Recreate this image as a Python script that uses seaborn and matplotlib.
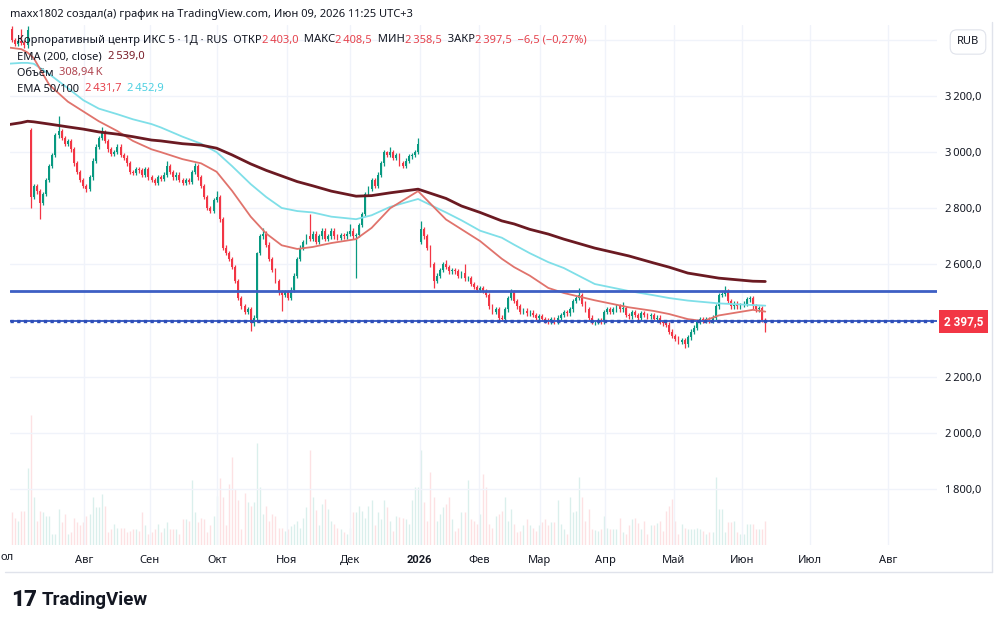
import numpy as np
import pandas as pd
import matplotlib
matplotlib.use("Agg")
import matplotlib.pyplot as plt
import matplotlib.transforms as mtransforms
from matplotlib.lines import Line2D
import seaborn as sns


# daily candles, X5 (ИКС 5); bar 0 ~ 1 July 2025
close = [
  3400, 3385, 3395, 3390, 3380, 3435, 2840, 2880, 2860, 2820,
  2850, 2900, 2950, 2990, 3060, 3075, 3050, 3030, 3040, 3010,
  2960, 2930, 2900, 2880, 2870, 2910, 2970, 3020, 3050, 3070,
  3040, 3010, 2995, 3000, 3020, 2990, 2980, 2960, 2930, 2925,
  2940, 2935, 2920, 2940, 2910, 2900, 2890, 2910, 2905, 2920,
  2950, 2930, 2910, 2920, 2900, 2890, 2900, 2895, 2930, 2950,
  2910, 2880, 2840, 2800, 2790, 2830, 2840, 2760, 2660, 2640,
  2620, 2590, 2540, 2480, 2450, 2430, 2440, 2390, 2410, 2640,
  2700, 2710, 2670, 2620, 2580, 2540, 2500, 2490, 2500, 2480,
  2510, 2560, 2620, 2660, 2680, 2700, 2690, 2710, 2680, 2700,
  2720, 2690, 2700, 2720, 2700, 2695, 2705, 2700, 2710, 2720,
  2700, 2705, 2740, 2780, 2850, 2870, 2900, 2880, 2920, 2960,
  3000, 2990, 3000, 2980, 2990, 2960, 2950, 2970, 2985, 2990,
  3000, 3030, 2725, 2700, 2660, 2600, 2540, 2560, 2580, 2600,
  2590, 2575, 2580, 2575, 2560, 2570, 2550, 2550, 2530, 2520,
  2510, 2515, 2505, 2490, 2450, 2430, 2440, 2410, 2405, 2440,
  2480, 2500, 2470, 2450, 2430, 2435, 2425, 2428, 2420, 2410,
  2415, 2405, 2400, 2395, 2405, 2395, 2410, 2420, 2430, 2425,
  2440, 2470, 2480, 2490, 2460, 2440, 2410, 2395, 2395, 2400,
  2395, 2430, 2440, 2430, 2440, 2450, 2440, 2445, 2420, 2415,
  2430, 2420, 2410, 2425, 2420, 2415, 2420, 2405, 2410, 2395,
  2390, 2385, 2360, 2345, 2335, 2325, 2330, 2315, 2340, 2360,
  2375, 2395, 2405, 2400, 2405, 2400, 2410, 2450, 2490, 2495,
  2505, 2470, 2450, 2460, 2450, 2455, 2460, 2475, 2480, 2450,
  2440, 2445, 2403, 2397.5,
]
# gap opens (otherwise open = previous close)
open_gaps = {0: 3440, 6: 3080, 132: 2680}
# visible long wicks
wick_high = {3: 3440, 5: 3448, 6: 3085, 15: 3128, 29: 3090, 50: 2968, 59: 2962,
             66: 2860, 79: 2645, 81: 2730, 96: 2780, 109: 2745, 121: 3005,
             122: 3020, 131: 3050, 132: 2755, 140: 2615, 146: 2600, 161: 2512,
             183: 2516, 197: 2465, 230: 2523, 243: 2408.5}
wick_low = {6: 2800, 9: 2760, 24: 2858, 77: 2363, 87: 2434, 111: 2551,
            136: 2516, 157: 2395, 188: 2385, 217: 2302, 243: 2358.5}

# volume, thousands of shares
volume = [
  420, 350, 310, 440, 440, 980, 1660, 610, 310, 440,
  420, 370, 370, 140, 140, 460, 290, 400, 140, 160,
  350, 300, 250, 290, 370, 400, 610, 480, 480, 650,
  500, 160, 200, 270, 220, 220, 220, 160, 180, 200,
  200, 180, 420, 250, 140, 160, 200, 270, 160, 220,
  290, 200, 200, 200, 140, 330, 330, 310, 830, 420,
  290, 350, 330, 160, 250, 370, 630, 850, 610, 250,
  780, 1130, 720, 570, 200, 670, 550, 500, 550, 1300,
  740, 400, 500, 310, 400, 370, 220, 220, 180, 200,
  240, 270, 310, 220, 350, 480, 1210, 610, 450, 250,
  520, 590, 460, 310, 270, 220, 200, 170, 140, 220,
  420, 420, 500, 430, 350, 500, 570, 250, 420, 330,
  570, 480, 310, 180, 370, 360, 350, 330, 270, 570,
  740, 740, 1210, 550, 310, 930, 610, 310, 400, 480,
  520, 610, 330, 180, 220, 420, 420, 830, 330, 310,
  270, 400, 910, 740, 270, 220, 370, 400, 440, 610,
  310, 460, 270, 160, 180, 260, 330, 250, 220, 180,
  250, 290, 330, 250, 290, 290, 570, 270, 200, 140,
  610, 420, 440, 870, 610, 310, 460, 200, 190, 180,
  200, 370, 220, 200, 200, 200, 350, 160, 140, 250,
  330, 350, 280, 200, 310, 140, 250, 250, 280, 310,
  180, 440, 500, 590, 310, 140, 270, 220, 200, 200,
  210, 220, 200, 180, 140, 160, 160, 870, 460, 460,
  160, 290, 290, 310, 160, 140, 140, 270, 270, 270,
  200, 200, 200, 308.94,
]

# EMA lines (bar index -> value)
ema_bar = [-4, 3, 5, 7, 12, 18, 23, 28, 34, 39, 45, 48, 55, 61, 66, 71, 77, 82,
           87, 92, 97, 103, 111, 116, 122, 131, 140, 145, 151, 158, 162, 167,
           173, 178, 188, 199, 207, 212, 218, 223, 228, 239, 243]
ema50 = [3377, 3367, 3355, 3335, 3240, 3180, 3145, 3110, 3075, 3040, 3010, 3000,
         2975, 2960, 2930, 2862, 2770, 2710, 2668, 2655, 2662, 2676, 2690, 2730,
         2800, 2861, 2760, 2725, 2683, 2620, 2590, 2560, 2516, 2498, 2472, 2447,
         2434, 2423, 2405, 2398, 2418, 2438, 2431.7]
ema100 = [3313, 3318, 3318, 3315, 3278, 3228, 3185, 3155, 3135, 3117, 3100, 3088,
          3055, 3030, 3000, 2950, 2886, 2840, 2801, 2790, 2785, 2770, 2761, 2775,
          2805, 2833, 2785, 2757, 2720, 2695, 2670, 2640, 2608, 2587, 2530, 2505,
          2490, 2480, 2471, 2466, 2461, 2455, 2452.9]
ema200 = [3093, 3105, 3110, 3108, 3100, 3090, 3082, 3072, 3064, 3055, 3043, 3040,
          3030, 3025, 3014, 2990, 2958, 2935, 2915, 2895, 2880, 2861, 2843, 2845,
          2855, 2868, 2835, 2808, 2785, 2755, 2744, 2725, 2708, 2690, 2658, 2630,
          2605, 2590, 2569, 2560, 2551, 2540, 2539.0]

level_top = 2505
level_bottom = 2397.5
last_price = 2397.5

month_labels = ["Авг", "Сен", "Окт", "Ноя", "Дек", "2026", "Фев", "Мар", "Апр",
                "Май", "Июн", "Июл", "Авг"]
month_first_bar = [23.2, 44.5, 66.1, 88.7, 109.0, 131.5, 150.6, 170.3, 191.3,
                   213.5, 235.5, 257.4, 282.6]

UP, DOWN = "#089981", "#f23645"
TXT = "#131722"
NNBSP = "\u202f"
BOLD_FONT = ["Roboto", "Open Sans", "DejaVu Sans"]


def fmt_price(v):
  s = f"{v:,.1f}"
  return s.replace(",", "X").replace(".", ",").replace("X", NNBSP)


sns.set_style("white")
plt.rcParams['font.family'] = ['Noto Sans', 'DejaVu Sans']

n = len(close)
bars = np.arange(n)
opens = np.array([open_gaps.get(i, close[i - 1] if i else close[0]) for i in range(n)], dtype=float)
closes = np.array(close, dtype=float)
wick_pad = 8
highs = np.array([wick_high.get(i, max(opens[i], closes[i]) + wick_pad) for i in range(n)])
lows = np.array([wick_low.get(i, min(opens[i], closes[i]) - wick_pad) for i in range(n)])
up = closes >= opens
cols = np.where(up, UP, DOWN)

W, H = 1000, 629
fx = lambda px: px / W
fy = lambda py: 1 - py / H

fig = plt.figure(figsize=(10, 6.29), dpi=100)
fig.patch.set_facecolor("white")
rect = [fx(10), fy(545), (937 - 10) / W, (545 - 25) / H]

# volume underneath
ax_vol = fig.add_axes(rect)
vol = np.array(volume[:n], dtype=float)
ax_vol.vlines(bars[:len(vol)], 0, vol, colors=np.where(up[:len(vol)], UP, DOWN),
              lw=1.0, alpha=0.15)
ax_vol.set_ylim(0, 6640)
ax_vol.axis("off")

ax = fig.add_axes(rect, sharex=ax_vol)
ax.patch.set_visible(False)
ax.set_xlim(-0.65, 298.4)
ax.set_ylim(1600, 3453)

# candles
ax.vlines(bars, lows, highs, colors=cols, lw=0.9, zorder=2)
body = np.maximum(np.abs(closes - opens), 3)
ax.bar(bars, body, bottom=np.minimum(opens, closes), width=0.62, color=cols,
       linewidth=0, zorder=2)

# EMAs
sns.lineplot(x=ema_bar, y=ema100, ax=ax, color="#7fdfe8", lw=1.3, zorder=3)
sns.lineplot(x=ema_bar, y=ema50, ax=ax, color="#e0736c", lw=1.3, zorder=3)
sns.lineplot(x=ema_bar, y=ema200, ax=ax, color="#6b1a22", lw=2.0, zorder=3)

# horizontal levels
ax.axhline(level_top, color="#3d5fc4", lw=2.0, zorder=4)
ax.axhline(level_bottom, color="#3d5fc4", lw=1.4, zorder=4)
ax.axhline(level_bottom, color="#2f4fb8", lw=2.4, ls=(0, (1, 1)), zorder=4)

# grid and ticks
ax.set_yticks(range(1800, 3401, 200))
ax.set_yticklabels(["" if v in (2400, 3400) else fmt_price(v) for v in range(1800, 3401, 200)])
ax.yaxis.tick_right()
ax.set_xticks(month_first_bar)
ax.set_xticklabels(month_labels)
ax.tick_params(axis="both", length=0, labelsize=8, labelcolor=TXT)
ax.tick_params(axis="y", pad=6)
ax.tick_params(axis="x", pad=7)
for lab in ax.get_xticklabels():
  if lab.get_text() == "2026":
    lab.set_fontfamily(BOLD_FONT)
    lab.set_fontweight("bold")
ax.grid(True, color="#f0f3fa", lw=1)
ax.set_axisbelow(True)
ax.set_xlabel("")
ax.set_ylabel("")
for sp in ax.spines.values():
  sp.set_visible(False)

# last price tag
trans = mtransforms.blended_transform_factory(ax.transAxes, ax.transData)
ax.text(1.0075, last_price, fmt_price(last_price), transform=trans, ha="left",
        va="center", color="white", fontsize=8.5, fontfamily=BOLD_FONT, fontweight="bold",
        bbox=dict(boxstyle="square,pad=0.42", fc="#f23645", ec="none"), clip_on=False)

fig.text(fx(968), fy(42), "RUB", ha="center", va="center", fontsize=8, color=TXT,
         bbox=dict(boxstyle="round,pad=0.6", fc="white", ec="#e0e3eb", lw=0.8))

# header and legend
fig.text(fx(10), fy(14), "maxx1802 создал(а) график на TradingView.com, Июн 09, 2026 11:25 UTC+3",
         ha="left", va="center", fontsize=8, color=TXT)


def legend_line(py, parts):
  t = fig.text(fx(17), fy(py), parts[0][0], color=parts[0][1], fontsize=8,
               ha="left", va="center")
  for s, c in parts[1:]:
    t = ax.annotate(s, xy=(1, 0.5), xycoords=t, color=c, fontsize=8,
                    ha="left", va="center", annotation_clip=False)


red_val = "#e5434d"
legend_line(40, [("Корпоративный центр ИКС 5 · 1Д · RUS  ОТКР", TXT), ("2" + NNBSP + "403,0", red_val),
                 ("  МАКС", TXT), ("2" + NNBSP + "408,5", red_val),
                 ("  МИН", TXT), ("2" + NNBSP + "358,5", red_val),
                 ("  ЗАКР", TXT), ("2" + NNBSP + "397,5  −6,5 (−0,27%)", red_val)])
legend_line(57, [("EMA (200, close)  ", TXT), ("2" + NNBSP + "539,0", "#7a1f2a")])
legend_line(73, [("Объём  ", TXT), ("308,94" + NNBSP + "K", "#b04651")])
legend_line(89, [("EMA 50/100  ", TXT), ("2" + NNBSP + "431,7", red_val),
                 ("  ", TXT), ("2" + NNBSP + "452,9", "#4dd0e1")])

# cut-off first month label
fig.text(fx(14), fy(557), "ол", ha="right", va="center", fontsize=8, color=TXT)

# frame of the chart widget
fig.add_artist(Line2D([fx(5), fx(992)], [fy(572), fy(572)], color="#e0e3eb", lw=1))
fig.add_artist(Line2D([fx(992), fx(992)], [fy(22), fy(572)], color="#e0e3eb", lw=1))

# logo
fig.text(fx(11), fy(600), "17", ha="left", va="center", fontsize=16,
         fontfamily=BOLD_FONT, fontweight="black", color=TXT)
fig.text(fx(42), fy(600), "TradingView", ha="left", va="center", fontsize=13.5,
         fontfamily=BOLD_FONT, fontweight="bold", color=TXT)

fig.savefig("out.png", dpi=100, facecolor="white")
